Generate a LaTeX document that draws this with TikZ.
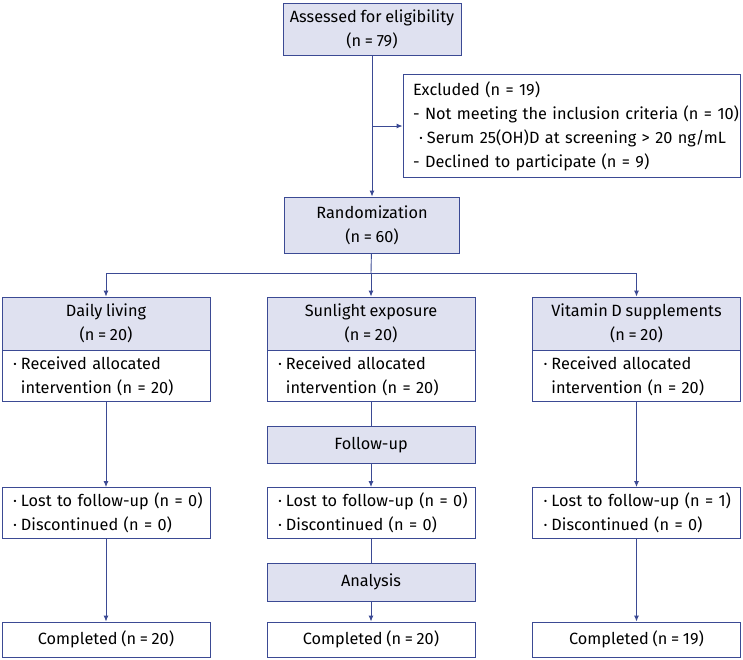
\documentclass[tikz,border=0pt]{standalone}
\usepackage{fontspec}
\setmainfont{Fira Sans}[WordSpace=0.85]
\usetikzlibrary{arrows.meta,positioning}
\definecolor{cbline}{HTML}{3B4A94}
\definecolor{cbfill}{HTML}{DFE1F0}
\newcommand{\bul}{\textperiodcentered\hspace{4pt}}
\newcommand{\bulgap}{\phantom{\textperiodcentered\hspace{4pt}}}
\newcommand{\row}[1]{\mbox{#1}}

\begin{document}
\begin{tikzpicture}[x=1pt,y=-1pt,>={Latex[length=6pt,width=5pt]},
    box/.style={draw=cbline, line width=0.9pt, fill=white, inner sep=0pt,
      font=\fontsize{16.3}{24}\selectfont},
    head/.style={box, fill=cbfill, align=center, minimum width=208pt},
    list/.style={box, align=left, inner xsep=11pt, text width=186pt},
    flow/.style={draw=cbline, line width=0.9pt}]
  \useasboundingbox (0,0) rectangle (743,659);

  % top part
  \node[head, minimum width=178pt, minimum height=52pt] (assess) at (372,29) {Assessed for eligibility\\(n = 79)};
  \node[box, align=left, inner xsep=10pt, text width=317pt, minimum height=103pt] (excl) at (571.5,126)
    {\row{Excluded (n = 19)}\\\row{- Not meeting the inclusion criteria (n = 10)}\\\row{\hspace{6pt}\bul Serum 25(OH)D at screening > 20 ng/mL}\\\row{- Declined to participate (n = 9)}};
  \node[head, minimum width=175pt, minimum height=56pt] (rand) at (372,225) {Randomization\\(n = 60)};

  % three arms
  \node[head, minimum height=53pt] (dailyH) at (106,323.5) {Daily living\\(n = 20)};
  \node[head, minimum height=53pt] (sunH) at (371,323.5) {Sunlight exposure\\(n = 20)};
  \node[head, minimum height=53pt] (vitH) at (636.5,323.5) {Vitamin D supplements\\(n = 20)};
  \node[list, minimum height=51pt] (dailyB) at (106,376) {\row{\bul Received allocated}\\\row{\bulgap intervention (n = 20)}};
  \node[list, minimum height=51pt] (sunB) at (371,376) {\row{\bul Received allocated}\\\row{\bulgap intervention (n = 20)}};
  \node[list, minimum height=51pt] (vitB) at (636.5,376) {\row{\bul Received allocated}\\\row{\bulgap intervention (n = 20)}};

  \node[head, minimum height=37pt] (follow) at (371,445) {Follow-up};

  \node[list, minimum height=51pt] (dailyL) at (106,513) {\row{\bul Lost to follow-up (n = 0)}\\\row{\bul Discontinued (n = 0)}};
  \node[list, minimum height=51pt] (sunL) at (371,513) {\row{\bul Lost to follow-up (n = 0)}\\\row{\bul Discontinued (n = 0)}};
  \node[list, minimum height=51pt] (vitL) at (636.5,513) {\row{\bul Lost to follow-up (n = 1)}\\\row{\bul Discontinued (n = 0)}};

  \node[head, minimum height=38pt] (anal) at (371,582) {Analysis};

  \node[box, minimum width=208pt, minimum height=35pt] (dailyC) at (106,639.5) {Completed (n = 20)};
  \node[box, minimum width=208pt, minimum height=35pt] (sunC) at (371,639.5) {Completed (n = 20)};
  \node[box, minimum width=208pt, minimum height=35pt] (vitC) at (636.5,639.5) {Completed (n = 19)};

  % connectors
  \coordinate (split) at (assess.south |- excl.west);
  \coordinate (bus) at (371,273);
  \draw[flow,->] (assess) -- (rand);
  \draw[flow,->] (split) -- (excl.west);
  \draw[flow] (rand) -- (bus);
  \draw[flow,->] (bus) -| (dailyH.north);
  \draw[flow,->] (bus) -- (sunH.north);
  \draw[flow,->] (bus) -| (vitH.north);
  \draw[flow,->] (dailyB) -- (dailyL);
  \draw[flow,->] (dailyL) -- (dailyC);
  \draw[flow] (sunB) -- (follow);
  \draw[flow,->] (follow) -- (sunL);
  \draw[flow] (sunL) -- (anal);
  \draw[flow,->] (anal) -- (sunC);
  \draw[flow,->] (vitB) -- (vitL);
  \draw[flow,->] (vitL) -- (vitC);
\end{tikzpicture}
\end{document}
